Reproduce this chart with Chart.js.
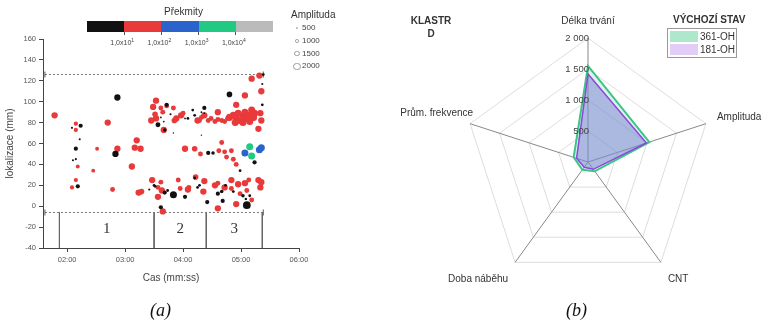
<!DOCTYPE html>
<html>
<head>
<meta charset="utf-8">
<script src="https://cdn.jsdelivr.net/npm/chart.js@4.4.1/dist/chart.umd.min.js"></script>
<style>
  body { margin:0; width:767px; height:321px; position:relative; background:#fff; overflow:hidden;
         font-family:"Liberation Sans", Arial, sans-serif; color:#333; }
  .abs { position:absolute; white-space:nowrap; }
  .cap { font-family:"Liberation Serif", "Times New Roman", serif; font-style:italic; font-size:18px; color:#111; }
  sup { font-size:5px; }
</style>
</head>
<body>
<div class="abs" style="left:0;top:0;width:390px;height:321px"><canvas id="scatter"></canvas></div>
<div class="abs" style="left:390px;top:0;width:377px;height:321px"><canvas id="radar"></canvas></div>

<!-- colour bar (a) -->
<div class="abs" style="left:164px;top:6px;font-size:10px;color:#333">Překmity</div>
<div id="cbar" class="abs" style="left:87px;top:21px;width:186px;height:11px"></div>
<div id="cbarTicks"></div>

<!-- amplitude legend (a) -->
<div class="abs" style="left:291px;top:9px;font-size:10px;color:#333">Amplituda</div>
<div id="ampLegend"></div>

<div class="abs cap" style="left:150px;top:300px">(a)</div>
<div class="abs cap" style="left:566px;top:300px">(b)</div>

<!-- radar titles / legend (b) -->
<div class="abs" style="left:406px;top:14px;width:50px;text-align:center;font-size:10px;font-weight:bold;line-height:13px">KLASTR<br>D</div>
<div class="abs" style="left:673px;top:14px;font-size:10px;font-weight:bold">VÝCHOZÍ STAV</div>
<div id="radarLegend" class="abs" style="left:667px;top:28px;width:68px;height:28px;border:1px solid #999"></div>

<script>
// ---- panel (a): events ----
var xTicks = [120, 180, 240, 300, 360];
var yTicks = [-40, -20, 0, 20, 40, 60, 80, 100, 120, 140, 160];
var upperLimit = 126;
var lowerLimit = -6;
var limitSpan = [97, 323];
var regionBounds = [112, 210, 264, 322];
var regionNames = ['1', '2', '3'];

// [time s, lokalizace mm, amplituda]
var blackPts = [
  [134,77,1200],[125,75,600],[133,64,600],[129,55,1200],[126,44,600],[129,45,600],[131,19,1200],
  [172,104,1800],[170,50,1800],
  [214,78,1400],[223,97,1200],[227,88,600],[221,73,1000],[217,85,500],[220,81,500],[230,70,400],
  [245,84,800],[250,92,800],[252,87,800],[242,84,500],[262,94,1200],[259,90,500],[262,89,500],[259,68,400],
  [266,51,1200],[271,51,1000],[288,107,1600],[299,34,800],[314,42,1200],
  [322,97,800],[323,126,800],[322,117,600],
  [205,16,600],[210,20,800],[211,19,800],[217,-1,1200],[221,13,1200],[224,15,800],[230,11,2000],[242,9,1200],
  [252,27,800],[255,18,800],[257,20,800],[265,4,1200],
  [276,12,1200],[280,14,1000],[281,5,1200],[284,20,800],[292,14,800],[302,10,1000],[305,7,700],[306,1,2200],[309,10,800]
];
var redPts = [
  [107,87,1800],[129,79,1200],[129,73,1200],[131,38,1100],[129,25,1200],[125,18,1200],
  [151,55,1100],[147,34,1100],[162,80,1800],[172,55,1800],[167,16,1400],
  [192,63,1800],[190,56,1800],[196,55,1800],[187,38,1800],[194,13,1800],[197,14,1600],
  [212,101,1800],[209,95,1800],[217,94,1400],[223,96,1400],[230,94,1400],[207,82,1800],[212,84,1800],[211,88,1600],
  [220,73,1800],[219,90,1400],[233,84,1800],[238,87,1800],[231,82,1600],[240,89,1400],
  [255,82,1800],[262,87,1800],[257,82,1400],[259,85,1400],[266,82,1400],[269,84,1400],[273,81,1400],[276,83,1400],
  [280,82,1400],[283,81,1400],[286,84,1400],[276,90,1800],[295,97,1800],
  [288,85,2000],[292,87,2000],[295,84,2000],[297,89,2000],[299,82,2000],[302,86,2000],[304,90,2000],[306,84,2000],
  [308,87,2000],[311,92,2000],[313,85,2000],[309,81,2000],[314,89,2000],[294,80,2000],[302,80,2000],
  [304,106,1800],[311,122,1800],[319,125,1800],[321,110,1800],[320,89,1800],[321,82,1800],[318,74,1800],
  [242,55,1800],[252,55,1600],[258,50,1400],[280,61,1400],[277,53,1400],[283,52,1400],[290,53,1400],[285,47,1400],[292,45,1400],[295,40,1400],
  [208,25,1800],[214,9,1800],[218,15,1800],[217,23,1400],[214,18,1400],[219,-5,1800],[235,25,1400],[237,17,1400],
  [245,16,1800],[246,18,1400],[253,28,1600],[262,24,1800],[261,14,1800],
  [273,20,1800],[276,22,1400],[283,18,1800],[290,25,1800],[290,17,1400],[297,21,1800],[295,2,1800],[299,12,1400],
  [304,22,1800],[306,15,1400],[308,25,1400],[311,6,1400],[318,25,1800],[320,18,1800],[321,23,1800],[276,-2,1800]
];
var bluePts = [[304,51,2000],[319,54,2000],[321,56,2000]];
var greenPts = [[309,57,2000],[311,48,2000]];

var barColors = ['#111111', '#e8393b', '#2a63cc', '#22c983', '#bbbbbb'];
var barLabels = ['1,0x10<sup>1</sup>', '1,0x10<sup>2</sup>', '1,0x10<sup>3</sup>', '1,0x10<sup>4</sup>'];
var ampLevels = [500, 1000, 1500, 2000];

// ---- panel (b): radar ----
var radarAxes = ['Délka trvání', 'Amplituda', 'CNT', 'Doba náběhu', 'Prům. frekvence'];
var oh361 = [1550, 1040, 185, 155, 243];
var oh181 = [1420, 990, 146, 104, 194];
var radarTicks = [500, 1000, 1500, 2000];
var radarNames = ['361-OH', '181-OH'];

Chart.defaults.font.family = '"Liberation Sans", Arial, sans-serif';
Chart.defaults.color = '#444';

function ampR(a) { return a / 570; }
function bubbles(pts, col) {
  return {
    type: 'bubble', order: 0,
    data: pts.map(function(p) { return {x: p[0], y: p[1], r: ampR(p[2])}; }),
    backgroundColor: col, borderWidth: 0, hoverRadius: 0
  };
}
function dashLine(y) {
  return {
    type: 'line', order: 10,
    data: [{x: limitSpan[0], y: y}, {x: limitSpan[1], y: y}],
    borderColor: '#777', borderWidth: 1, borderDash: [2, 2],
    pointStyle: 'line', rotation: 90, pointRadius: 3, pointBorderColor: '#555', pointBorderWidth: 1
  };
}

var datasets = [dashLine(upperLimit), dashLine(lowerLimit)];
regionBounds.forEach(function(b) {
  datasets.push({
    type: 'line', order: 10,
    data: [{x: b, y: lowerLimit}, {x: b, y: -40}],
    borderColor: '#666', borderWidth: 1, pointRadius: 0
  });
});
datasets.push(bubbles(blackPts, barColors[0]));
datasets.push(bubbles(redPts, barColors[1]));
datasets.push(bubbles(bluePts, barColors[2]));
datasets.push(bubbles(greenPts, barColors[3]));

var regionText = {
  id: 'regionText',
  afterDatasetsDraw: function(chart) {
    var ctx = chart.ctx, sx = chart.scales.x, sy = chart.scales.y;
    ctx.save();
    ctx.font = '15px "Liberation Serif", serif';
    ctx.fillStyle = '#333';
    ctx.textAlign = 'center';
    ctx.textBaseline = 'middle';
    for (var i = 0; i < regionNames.length; i++) {
      var mid = (regionBounds[i] + regionBounds[i + 1]) / 2;
      ctx.fillText(regionNames[i], sx.getPixelForValue(mid), sy.getPixelForValue(-22));
    }
    ctx.restore();
  }
};

function mmss(v) {
  var m = Math.floor(v / 60), s = v % 60;
  return String(m).padStart(2, '0') + ':' + String(s).padStart(2, '0');
}

new Chart(document.getElementById('scatter'), {
  type: 'bubble',
  data: {datasets: datasets},
  options: {
    animation: false, responsive: true, maintainAspectRatio: false,
    layout: {padding: {left: 0, top: 39, right: 91, bottom: 33}},
    plugins: {legend: {display: false}, tooltip: {enabled: false}},
    scales: {
      x: {
        type: 'linear', min: 95, max: 360,
        afterBuildTicks: function(s) { s.ticks = xTicks.map(function(v) { return {value: v}; }); },
        afterFit: function(s) { s.height = 40; },
        ticks: {callback: mmss, font: {size: 7.5}, color: '#555', autoSkip: false, maxRotation: 0, padding: 3},
        grid: {drawOnChartArea: false, tickLength: 4, color: '#444'},
        border: {display: true, color: '#444'},
        title: {display: true, text: 'Cas (mm:ss)', font: {size: 10}, color: '#444', padding: {top: 4}}
      },
      y: {
        type: 'linear', min: -40, max: 160,
        afterBuildTicks: function(s) { s.ticks = yTicks.map(function(v) { return {value: v}; }); },
        afterFit: function(s) { s.width = 43; },
        ticks: {font: {size: 7.5}, color: '#555', autoSkip: false, padding: 3},
        grid: {drawOnChartArea: false, tickLength: 4, color: '#444'},
        border: {display: true, color: '#444'},
        title: {display: true, text: 'lokalizace (mm)', font: {size: 10}, color: '#444', padding: {bottom: 2}}
      }
    }
  },
  plugins: [regionText]
});

// colour bar + tick labels
var cbar = document.getElementById('cbar');
var segW = 186 / barColors.length;
barColors.forEach(function(c, i) {
  var d = document.createElement('div');
  d.className = 'abs';
  d.style.cssText = 'left:' + (i * segW) + 'px;top:0;width:' + segW + 'px;height:11px;background:' + c;
  cbar.appendChild(d);
});
var cticks = document.getElementById('cbarTicks');
barLabels.forEach(function(t, i) {
  var x = 87 + segW * (i + 1);
  var tk = document.createElement('div');
  tk.className = 'abs';
  tk.style.cssText = 'left:' + (x - 0.5) + 'px;top:32px;width:1px;height:3px;background:#555';
  cticks.appendChild(tk);
  var lb = document.createElement('div');
  lb.className = 'abs';
  lb.style.cssText = 'left:' + (x - 32) + 'px;top:37px;width:60px;text-align:center;font-size:7px;color:#444';
  lb.innerHTML = t;
  cticks.appendChild(lb);
});

// amplitude legend
var amp = document.getElementById('ampLegend');
ampLevels.forEach(function(a, i) {
  var cy = 28 + i * 12.8, r = ampR(a);
  var c = document.createElement('div');
  c.className = 'abs';
  c.style.cssText = 'left:' + (297 - r) + 'px;top:' + (cy - r) + 'px;width:' + (2 * r) + 'px;height:' + (2 * r) +
    'px;border:1px solid #999;border-radius:50%;box-sizing:border-box';
  amp.appendChild(c);
  var t = document.createElement('div');
  t.className = 'abs';
  t.style.cssText = 'left:302px;top:' + (cy - 5) + 'px;font-size:8px;color:#444;line-height:10px';
  t.textContent = a;
  amp.appendChild(t);
});

// ---- radar ----
var radarColors = [
  {line: '#3dc488', fill: 'rgba(140,220,180,0.3)', swatch: '#ade8cd'},
  {line: '#8d45db', fill: 'rgba(110,110,215,0.45)', swatch: '#e2cdf6'}
];
var labelPos = [
  {dx: 0, dy: -17, align: 'center'},
  {dx: 11, dy: -6, align: 'left'},
  {dx: 7, dy: 17, align: 'left'},
  {dx: -7, dy: 17, align: 'right'},
  {dx: 3, dy: -10, align: 'right'}
];
function thousands(v) { return String(v).replace(/\B(?=(\d{3})+$)/, ' '); }

var radarText = {
  id: 'radarText',
  afterDraw: function(chart) {
    var ctx = chart.ctx, s = chart.scales.r;
    ctx.save();
    ctx.textBaseline = 'middle';
    ctx.fillStyle = '#333';
    ctx.font = '10px "Liberation Sans", Arial, sans-serif';
    radarAxes.forEach(function(t, i) {
      var p = s.getPointPosition(i, s.drawingArea);
      ctx.textAlign = labelPos[i].align;
      ctx.fillText(t, p.x + labelPos[i].dx, p.y + labelPos[i].dy);
    });
    ctx.font = '9.5px "Liberation Sans", Arial, sans-serif';
    ctx.fillStyle = '#444';
    ctx.textAlign = 'right';
    radarTicks.forEach(function(v) {
      ctx.fillText(thousands(v), s.xCenter + 1, s.yCenter - s.getDistanceFromCenterForValue(v));
    });
    ctx.restore();
  }
};

new Chart(document.getElementById('radar'), {
  type: 'radar',
  data: {
    labels: radarAxes,
    datasets: [
      {label: radarNames[0], data: oh361, borderColor: radarColors[0].line, backgroundColor: radarColors[0].fill,
       borderWidth: 2, pointRadius: 0, fill: true, order: 1},
      {label: radarNames[1], data: oh181, borderColor: radarColors[1].line, backgroundColor: radarColors[1].fill,
       borderWidth: 1.5, pointRadius: 0, fill: true, order: 0}
    ]
  },
  options: {
    animation: false, responsive: true, maintainAspectRatio: false,
    layout: {padding: {left: 74, top: 38, right: 54, bottom: 34}},
    plugins: {legend: {display: false}, tooltip: {enabled: false}},
    scales: {
      r: {
        min: 0, max: 2000,
        ticks: {display: false, stepSize: 500},
        pointLabels: {display: false},
        grid: {color: '#dddddd', lineWidth: 1},
        angleLines: {color: '#888888', lineWidth: 1}
      }
    }
  },
  plugins: [radarText]
});

var leg = document.getElementById('radarLegend');
radarNames.forEach(function(n, i) {
  var sw = document.createElement('div');
  sw.className = 'abs';
  sw.style.cssText = 'left:2px;top:' + (2 + i * 13) + 'px;width:28px;height:11px;background:' + radarColors[i].swatch;
  leg.appendChild(sw);
  var t = document.createElement('div');
  t.className = 'abs';
  t.style.cssText = 'left:32px;top:' + (1 + i * 13) + 'px;font-size:10px;line-height:13px;color:#333';
  t.textContent = n;
  leg.appendChild(t);
});
</script>
</body>
</html>
